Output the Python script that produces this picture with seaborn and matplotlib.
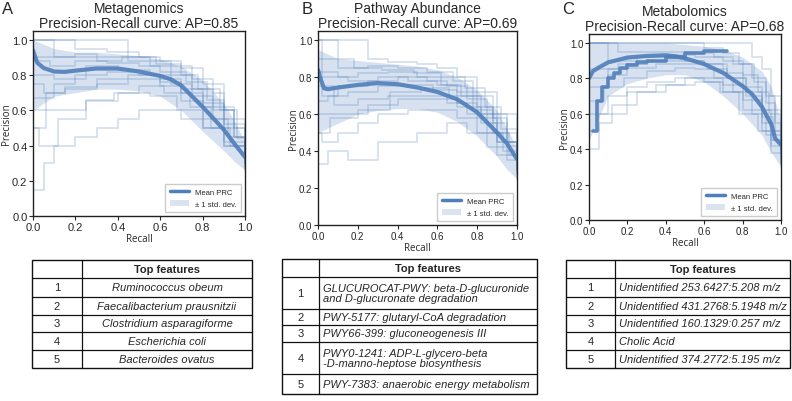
import matplotlib
matplotlib.use("Agg")
import matplotlib.pyplot as plt
from matplotlib.lines import Line2D
from matplotlib.patches import Patch, Rectangle
import seaborn as sns
import pandas as pd

# ---------------- data ----------------
titles = ["Metagenomics\nPrecision-Recall curve: AP=0.85",
          "Pathway Abundance\nPrecision-Recall curve: AP=0.69",
          "Metabolomics\nPrecision-Recall curve: AP=0.68"]
letters = ["A", "B", "C"]

# mean PR curves
mean_r_A = [0, 0.02, 0.05, 0.1, 0.15, 0.2, 0.3, 0.4, 0.5, 0.6, 0.65, 0.7, 0.75, 0.8, 0.85, 0.9, 0.95, 1.0]
mean_p_A = [0.94, 0.87, 0.84, 0.82, 0.818, 0.825, 0.837, 0.837, 0.82, 0.795, 0.776, 0.74, 0.68, 0.62, 0.555, 0.49, 0.41, 0.335]
mean_r_B = [0, 0.01, 0.03, 0.05, 0.1, 0.2, 0.3, 0.4, 0.5, 0.6, 0.7, 0.8, 0.9, 0.95, 1.0]
mean_p_B = [0.84, 0.8, 0.74, 0.735, 0.744, 0.758, 0.768, 0.762, 0.744, 0.72, 0.68, 0.61, 0.50, 0.44, 0.357]
mean_r_C = [0, 0.02, 0.05, 0.1, 0.2, 0.3, 0.4, 0.45, 0.5, 0.6, 0.7, 0.8, 0.85, 0.9, 0.95, 0.97, 1.0]
mean_p_C = [0.80, 0.84, 0.86, 0.89, 0.917, 0.926, 0.93, 0.924, 0.913, 0.88, 0.83, 0.756, 0.71, 0.64, 0.54, 0.46, 0.425]

# +/- 1 std. dev. envelopes
band_r = [0, 0.1, 0.2, 0.3, 0.4, 0.5, 0.6, 0.7, 0.8, 0.9, 0.95, 1.0]
upper_A = [1.0, 0.95, 0.93, 0.93, 0.92, 0.91, 0.89, 0.85, 0.77, 0.64, 0.54, 0.42]
lower_A = [0.6, 0.68, 0.7, 0.72, 0.72, 0.71, 0.68, 0.6, 0.48, 0.37, 0.31, 0.26]
upper_B = [0.95, 0.9, 0.89, 0.88, 0.87, 0.86, 0.84, 0.8, 0.73, 0.62, 0.52, 0.42]
lower_B = [0.5, 0.55, 0.6, 0.62, 0.63, 0.63, 0.61, 0.56, 0.48, 0.37, 0.3, 0.25]
upper_C = [1.0, 1.0, 1.0, 1.0, 1.0, 0.99, 0.98, 0.96, 0.92, 0.84, 0.75, 0.55]
lower_C = [0.45, 0.7, 0.77, 0.8, 0.82, 0.82, 0.78, 0.7, 0.6, 0.48, 0.38, 0.3]

# a sample of the individual (cross-validation) step curves
runs_A = [
    ([0, 0.05, 0.1, 0.2, 0.3, 0.45, 0.55, 0.65, 0.75, 0.85, 0.95, 1.0], [1.0, 1.0, 0.9, 0.92, 0.9, 0.88, 0.85, 0.8, 0.72, 0.6, 0.45, 0.35]),
    ([0, 0.05, 0.1, 0.2, 0.3, 0.4, 0.5, 0.6, 0.7, 0.8, 0.9, 1.0], [0.15, 0.3, 0.4, 0.45, 0.5, 0.55, 0.6, 0.6, 0.55, 0.5, 0.4, 0.3]),
    ([0, 0.1, 0.2, 0.35, 0.5, 0.6, 0.7, 0.8, 0.9, 1.0], [0.67, 0.75, 0.8, 0.82, 0.8, 0.78, 0.7, 0.62, 0.5, 0.3]),
    ([0, 0.06, 0.15, 0.3, 0.45, 0.6, 0.7, 0.8, 0.9, 1.0], [0.5, 0.7, 0.72, 0.75, 0.78, 0.74, 0.65, 0.55, 0.42, 0.28]),
    ([0, 0.2, 0.35, 0.5, 0.6, 0.7, 0.8, 0.9, 0.95, 1.0], [1.0, 0.95, 0.93, 0.9, 0.88, 0.84, 0.75, 0.62, 0.5, 0.38]),
    ([0, 0.1, 0.25, 0.4, 0.55, 0.65, 0.75, 0.85, 0.92, 1.0], [0.8, 0.78, 0.85, 0.83, 0.8, 0.75, 0.68, 0.55, 0.45, 0.32]),
    ([0, 0.05, 0.15, 0.3, 0.45, 0.6, 0.7, 0.8, 0.9, 1.0], [0.75, 0.7, 0.73, 0.78, 0.8, 0.76, 0.72, 0.64, 0.52, 0.26]),
    ([0, 0.45, 0.55, 0.65, 0.75, 0.85, 0.9, 0.95, 1.0], [1.0, 0.9, 0.88, 0.85, 0.78, 0.7, 0.6, 0.45, 0.33]),
    ([0, 0.08, 0.2, 0.35, 0.5, 0.6, 0.72, 0.82, 0.9, 1.0], [0.88, 0.85, 0.88, 0.87, 0.85, 0.82, 0.76, 0.66, 0.55, 0.36]),
    ([0, 0.1, 0.25, 0.4, 0.55, 0.68, 0.8, 0.9, 1.0], [0.6, 0.6, 0.65, 0.7, 0.68, 0.6, 0.5, 0.4, 0.27]),
    ([0, 0.03, 0.12, 0.25, 0.38, 0.5, 0.62, 0.74, 0.84, 0.93, 1.0], [0.5, 0.4, 0.55, 0.66, 0.7, 0.74, 0.7, 0.62, 0.5, 0.4, 0.3]),
    ([0, 0.15, 0.3, 0.42, 0.58, 0.7, 0.78, 0.88, 0.96, 1.0], [0.9, 0.9, 0.88, 0.9, 0.86, 0.8, 0.72, 0.6, 0.44, 0.3]),
]
runs_B = [
    ([0, 0.25, 0.35, 0.5, 0.6, 0.7, 0.8, 0.9, 1.0], [1.0, 0.9, 0.88, 0.87, 0.85, 0.8, 0.72, 0.6, 0.4]),
    ([0, 0.02, 0.1, 0.2, 0.3, 0.45, 0.6, 0.7, 0.8, 0.9, 1.0], [0.5, 0.45, 0.5, 0.55, 0.6, 0.62, 0.62, 0.58, 0.5, 0.38, 0.25]),
    ([0, 0.05, 0.15, 0.3, 0.5, 0.65, 0.75, 0.85, 0.95, 1.0], [0.33, 0.4, 0.35, 0.45, 0.5, 0.55, 0.5, 0.42, 0.35, 0.3]),
    ([0, 0.1, 0.2, 0.35, 0.5, 0.62, 0.72, 0.82, 0.9, 1.0], [0.83, 0.8, 0.82, 0.83, 0.8, 0.76, 0.7, 0.6, 0.5, 0.33]),
    ([0, 0.05, 0.15, 0.3, 0.45, 0.58, 0.7, 0.8, 0.9, 1.0], [0.67, 0.7, 0.72, 0.75, 0.76, 0.73, 0.66, 0.58, 0.45, 0.3]),
    ([0, 0.1, 0.25, 0.4, 0.55, 0.68, 0.78, 0.88, 0.95, 1.0], [1.0, 0.85, 0.86, 0.85, 0.83, 0.78, 0.7, 0.58, 0.45, 0.35]),
    ([0, 0.08, 0.2, 0.35, 0.5, 0.65, 0.75, 0.85, 0.93, 1.0], [0.75, 0.65, 0.68, 0.7, 0.7, 0.66, 0.6, 0.5, 0.4, 0.28]),
    ([0, 0.15, 0.3, 0.45, 0.6, 0.7, 0.8, 0.88, 0.95, 1.0], [0.8, 0.78, 0.8, 0.78, 0.76, 0.72, 0.64, 0.55, 0.43, 0.35]),
    ([0, 0.12, 0.25, 0.4, 0.55, 0.7, 0.82, 0.9, 1.0], [0.6, 0.6, 0.65, 0.68, 0.68, 0.64, 0.55, 0.45, 0.27]),
    ([0, 0.02, 0.1, 0.25, 0.4, 0.55, 0.65, 0.75, 0.85, 0.95, 1.0], [1.0, 0.7, 0.75, 0.78, 0.8, 0.78, 0.75, 0.68, 0.6, 0.45, 0.38]),
    ([0, 0.18, 0.32, 0.48, 0.62, 0.74, 0.84, 0.92, 1.0], [0.9, 0.85, 0.84, 0.82, 0.8, 0.74, 0.64, 0.52, 0.32]),
    ([0, 0.06, 0.2, 0.36, 0.52, 0.66, 0.78, 0.88, 0.96, 1.0], [0.5, 0.58, 0.62, 0.72, 0.74, 0.7, 0.62, 0.5, 0.38, 0.3]),
]
runs_C = [
    ([0, 0.85, 0.9, 0.95, 1.0], [1.0, 0.92, 0.85, 0.7, 0.5]),
    ([0, 0.05, 0.1, 0.2, 0.3, 0.45, 0.6, 0.7, 0.8, 0.9, 0.95, 1.0], [0.5, 0.6, 0.7, 0.75, 0.78, 0.8, 0.78, 0.72, 0.62, 0.5, 0.42, 0.35]),
    ([0, 0.1, 0.2, 0.35, 0.5, 0.62, 0.72, 0.82, 0.9, 0.95, 1.0], [0.75, 0.82, 0.86, 0.88, 0.88, 0.85, 0.8, 0.72, 0.62, 0.5, 0.4]),
    ([0, 0.08, 0.18, 0.3, 0.45, 0.55, 0.65, 0.75, 0.85, 0.92, 1.0], [0.67, 0.75, 0.8, 0.84, 0.86, 0.85, 0.8, 0.72, 0.6, 0.48, 0.33]),
    ([0, 0.15, 0.3, 0.5, 0.65, 0.75, 0.85, 0.92, 0.97, 1.0], [1.0, 0.95, 0.95, 0.94, 0.92, 0.88, 0.8, 0.7, 0.55, 0.45]),
    ([0, 0.1, 0.2, 0.3, 0.4, 0.5, 0.6, 0.7, 0.8, 0.9, 1.0], [0.8, 0.85, 0.88, 0.9, 0.91, 0.9, 0.88, 0.83, 0.75, 0.62, 0.4]),
    ([0, 0.05, 0.12, 0.25, 0.4, 0.55, 0.68, 0.78, 0.88, 0.95, 1.0], [0.4, 0.55, 0.65, 0.72, 0.76, 0.78, 0.72, 0.6, 0.5, 0.38, 0.3]),
    ([0, 0.1, 0.25, 0.4, 0.55, 0.7, 0.8, 0.88, 0.94, 1.0], [1.0, 0.9, 0.92, 0.93, 0.92, 0.9, 0.82, 0.72, 0.6, 0.42]),
    ([0, 0.15, 0.3, 0.45, 0.6, 0.72, 0.82, 0.9, 0.96, 1.0], [0.85, 0.88, 0.9, 0.9, 0.88, 0.8, 0.7, 0.58, 0.45, 0.32]),
    ([0, 0.2, 0.35, 0.5, 0.6, 0.7, 0.8, 0.9, 0.95, 1.0], [0.6, 0.72, 0.76, 0.8, 0.8, 0.76, 0.68, 0.55, 0.45, 0.37]),
    ([0, 0.6, 0.7, 0.78, 0.86, 0.92, 0.97, 1.0], [1.0, 0.97, 0.94, 0.88, 0.78, 0.66, 0.5, 0.38]),
]
# one heavy step curve in panel C
bold_r_C = [0.02, 0.04, 0.07, 0.1, 0.13, 0.16, 0.2, 0.25, 0.3, 0.4, 0.5, 0.6, 0.72]
bold_p_C = [0.5, 0.67, 0.75, 0.8, 0.83, 0.86, 0.875, 0.89, 0.9, 0.92, 0.94, 0.955, 0.955]

feat_ids = ["1", "2", "3", "4", "5"]
feats_A = ["Ruminococcus obeum", "Faecalibacterium prausnitzii", "Clostridium asparagiforme",
           "Escherichia coli", "Bacteroides ovatus"]
feats_B = ["GLUCUROCAT-PWY: beta-D-glucuronide\nand D-glucuronate degradation",
           "PWY-5177: glutaryl-CoA degradation",
           "PWY66-399: gluconeogenesis III",
           "PWY0-1241: ADP-L-glycero-beta\n-D-manno-heptose biosynthesis",
           "PWY-7383: anaerobic energy metabolism"]
feats_C = ["Unidentified 253.6427:5.208 m/z", "Unidentified 431.2768:5.1948 m/z",
           "Unidentified 160.1329:0.257 m/z", "Cholic Acid", "Unidentified 374.2772:5.195 m/z"]

# ---------------- style ----------------
sns.set_style("ticks")
plt.rcParams["font.family"] = ["Liberation Sans", "DejaVu Sans"]

W, H = 792, 402
fig = plt.figure(figsize=(W / 100, H / 100), dpi=100)

LINE = "#4f7fba"
BAND = "#b9c9e4"


def px_rect(left, top, right, bottom):
    return [left / W, 1 - bottom / H, (right - left) / W, (bottom - top) / H]


panels = [
    (px_rect(33, 32, 245, 217), mean_r_A, mean_p_A, upper_A, lower_A, runs_A, 8, 2),
    (px_rect(318, 32, 517, 226), mean_r_B, mean_p_B, upper_B, lower_B, runs_B, 7, 302),
    (px_rect(589, 35, 781, 221), mean_r_C, mean_p_C, upper_C, lower_C, runs_C, 7, 562),
]

for i, (rect, mr, mp, up, lo, runs, tfs, lx) in enumerate(panels):
    ax = fig.add_axes(rect)
    ax.fill_between(band_r, lo, up, color=BAND, alpha=0.55, lw=0)
    df = pd.concat([pd.DataFrame({"recall": r, "precision": p, "run": k})
                    for k, (r, p) in enumerate(runs)], ignore_index=True)
    sns.lineplot(data=df, x="recall", y="precision", units="run", estimator=None,
                 drawstyle="steps-post", color=LINE, alpha=0.24, lw=1.3,
                 legend=False, ax=ax)
    if i == 2:
        sns.lineplot(x=bold_r_C, y=bold_p_C, drawstyle="steps-post", color=LINE,
                     lw=2.6, alpha=0.9, ax=ax)
    sns.lineplot(x=mr, y=mp, color=LINE, lw=3, alpha=0.9, ax=ax)

    ax.set_xlim(0, 1)
    ax.set_ylim(0, 1.05)
    ax.set_xticks([0, 0.2, 0.4, 0.6, 0.8, 1.0])
    ax.set_yticks([0, 0.2, 0.4, 0.6, 0.8, 1.0])
    ax.tick_params(labelsize=tfs, length=3, width=0.8, pad=1)
    ax.set_xlabel("Recall", fontsize=7, family="Open Sans", labelpad=1)
    ax.set_ylabel("Precision", fontsize=7, family="Open Sans", labelpad=0)
    for s in ax.spines.values():
        s.set_linewidth(1.0)
        s.set_color("#222222")
    ax.set_title(titles[i], fontsize=10, pad=3, linespacing=1.05)
    handles = [Line2D([], [], color=LINE, lw=2.5),
               Patch(facecolor="#dbe3f1", edgecolor="none")]
    ax.legend(handles, ["Mean PRC", "\u00b1 1 std. dev."], loc="lower right",
              fontsize=5.5, frameon=True, handlelength=2.5, borderpad=0.6,
              labelspacing=0.6, fancybox=False, edgecolor="#cccccc", framealpha=1)
    fig.text(lx / W, 1 - 2 / H, letters[i], fontsize=12, va="top", ha="left")


# ---------------- tables ----------------
def draw_table(left, top, right, col_div, edges, feats, align):
    height = edges[-1]
    tax = fig.add_axes(px_rect(left, top, right, top + height))
    tax.set_xlim(0, right - left)
    tax.set_ylim(height, 0)
    tax.axis("off")
    w = right - left
    c = col_div - left
    tax.add_patch(Rectangle((0, 0), w, height, fill=False, lw=1.0, ec="#111111", clip_on=False))
    for e in edges[1:-1]:
        tax.plot([0, w], [e, e], color="#111111", lw=0.9, clip_on=False)
    tax.plot([c, c], [0, height], color="#111111", lw=0.9, clip_on=False)
    tax.text((c + w) / 2, edges[0] / 2 + edges[1] / 2, "Top features", fontsize=8,
             fontweight="bold", ha="center", va="center")
    for k in range(5):
        yc = (edges[k + 1] + edges[k + 2]) / 2
        tax.text(c / 2, yc, feat_ids[k], fontsize=8, ha="center", va="center")
        if align == "center":
            tax.text((c + w) / 2, yc, feats[k], fontsize=8, style="italic",
                     ha="center", va="center")
        else:
            tax.text(c + 4, yc, feats[k], fontsize=8, style="italic",
                     ha="left", va="center", linespacing=1.1)


draw_table(32, 261, 252, 82, [0, 18, 37, 55, 72, 90, 108], feats_A, "center")
draw_table(282, 260, 537, 319, [0, 18, 50, 66, 83, 115, 135], feats_B, "left")
draw_table(566, 261, 790, 615, [0, 18, 37, 55, 72, 90, 108], feats_C, "left")

fig.savefig("out.png", dpi=100)
